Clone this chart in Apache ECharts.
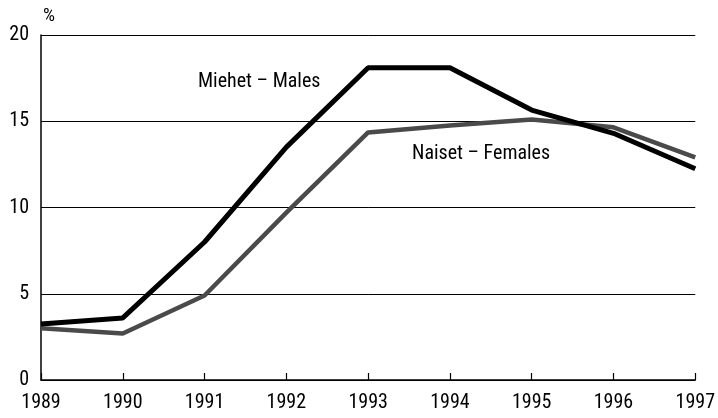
<!DOCTYPE html>
<html>
<head>
<meta charset="utf-8">
<script src="https://cdn.jsdelivr.net/npm/echarts@6/dist/echarts.min.js"></script>
<style>
  html, body { margin: 0; padding: 0; background: #fff; }
  #chart { width: 718px; height: 418px; }
</style>
</head>
<body>
<div id="chart"></div>
<script>
var years = ['1989', '1990', '1991', '1992', '1993', '1994', '1995', '1996', '1997'];
var males = [3.25, 3.6, 8.0, 13.5, 18.1, 18.1, 15.65, 14.3, 12.25];
var females = [3.0, 2.7, 4.9, 9.7, 14.35, 14.75, 15.1, 14.65, 12.9];
var yTicks = [0, 5, 10, 15, 20];

var font = '"Liberation Sans Narrow", "Roboto Condensed", Roboto, sans-serif';

var chart = echarts.init(document.getElementById('chart'));
chart.setOption({
  animation: false,
  backgroundColor: '#fff',
  grid: { left: 41, right: 20, top: 35, bottom: 38 },
  xAxis: {
    type: 'category',
    data: years,
    boundaryGap: false,
    axisLine: { lineStyle: { color: '#000', width: 1.5 } },
    axisTick: { inside: true, length: 7, lineStyle: { color: '#000', width: 1.2 } },
    axisLabel: { color: '#000', fontSize: 20, fontFamily: font, margin: 13 },
    splitLine: { show: false }
  },
  yAxis: {
    type: 'value',
    min: 0,
    max: 20,
    interval: 5,
    axisLine: { show: true, lineStyle: { color: '#000', width: 1.5 } },
    axisTick: { show: false },
    axisLabel: {
      color: '#000', fontSize: 20, fontFamily: font, margin: 12,
      formatter: function (v) { return yTicks.indexOf(v) >= 0 ? String(v) : ''; }
    },
    splitLine: { lineStyle: { color: '#000', width: 1 } }
  },
  graphic: [
    { type: 'text', left: 43, top: 7, style: { text: '%', fontSize: 19, fontFamily: font, fill: '#000' } },
    { type: 'text', left: 198, top: 72, style: { text: 'Miehet – Males', fontSize: 20, fontFamily: font, fill: '#000' } },
    { type: 'text', left: 412, top: 144, style: { text: 'Naiset – Females', fontSize: 20, fontFamily: font, fill: '#000' } }
  ],
  series: [
    {
      name: 'Naiset – Females',
      type: 'line',
      data: females,
      symbol: 'none',
      lineStyle: { color: '#4a4a4a', width: 4.5 }
    },
    {
      name: 'Miehet – Males',
      type: 'line',
      data: males,
      symbol: 'none',
      lineStyle: { color: '#000', width: 5 }
    }
  ]
});
</script>
</body>
</html>
